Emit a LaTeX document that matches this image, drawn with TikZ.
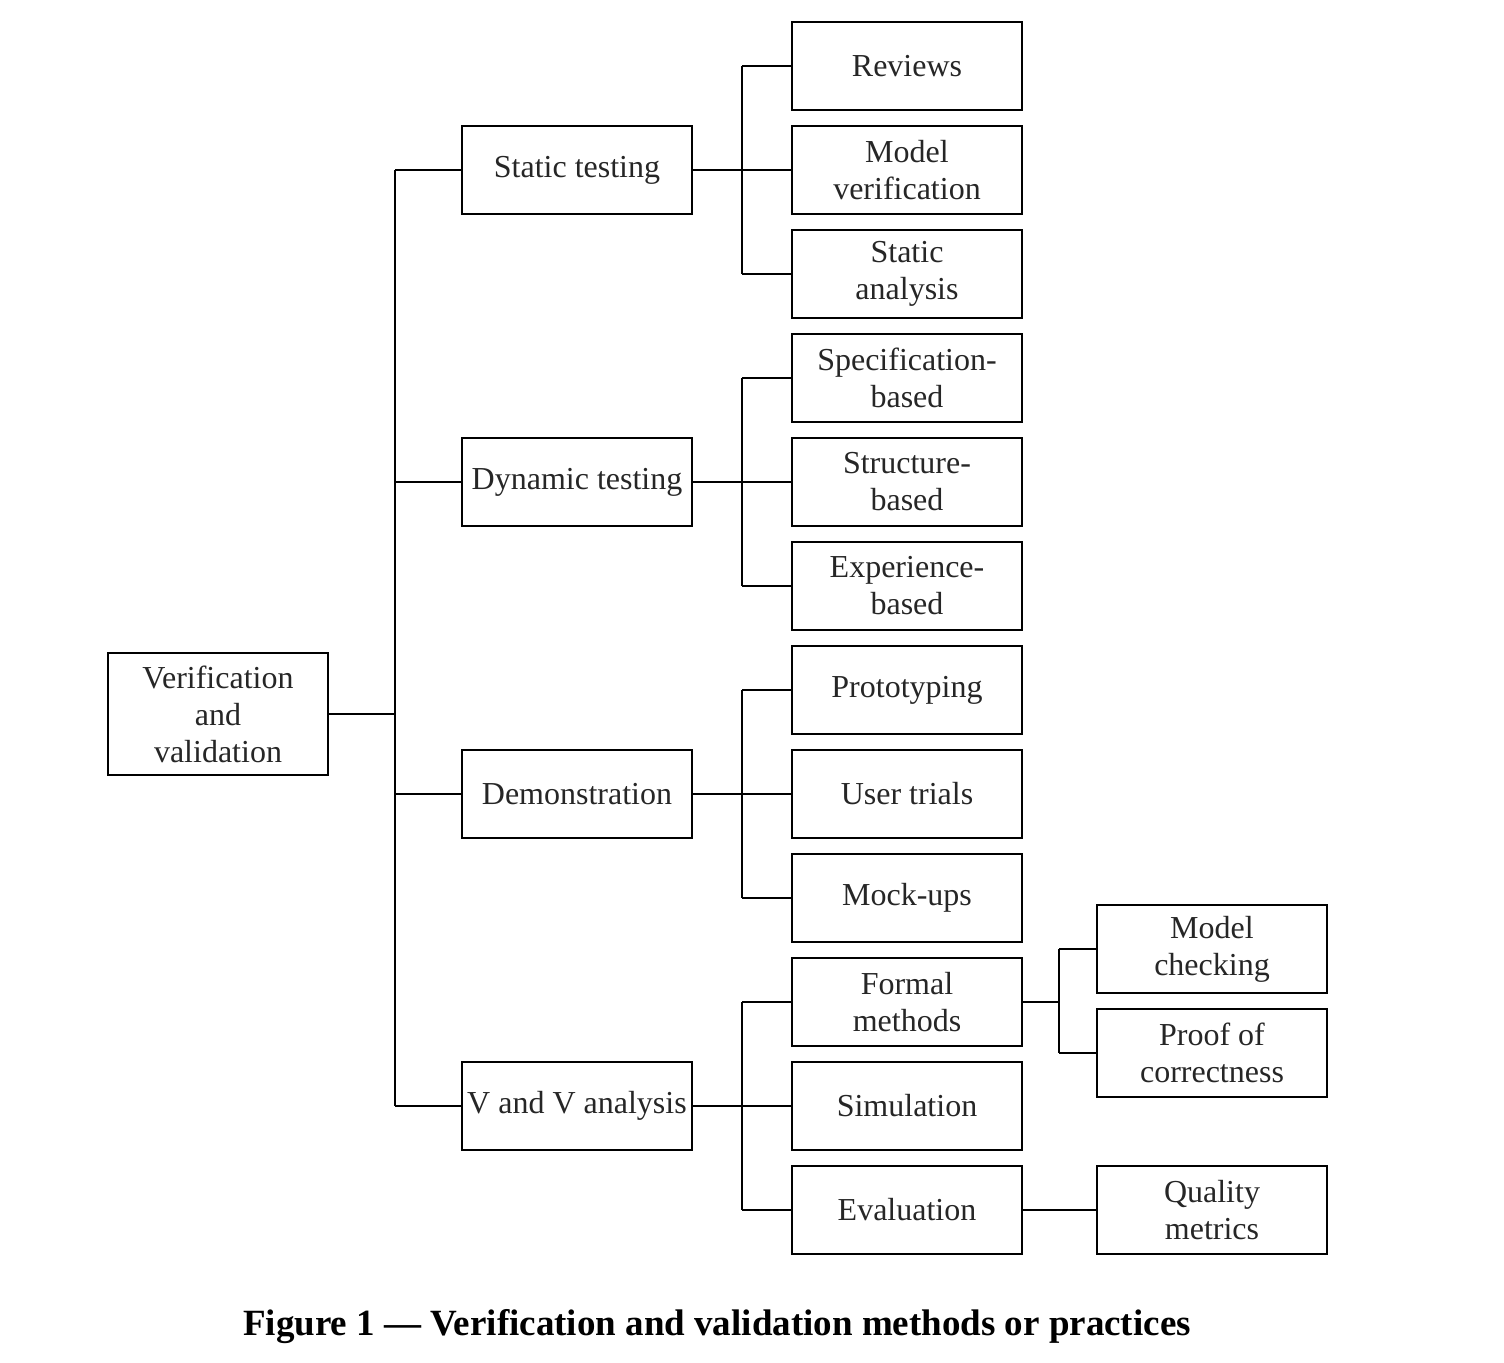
\documentclass[tikz,border=0pt]{standalone}
\usepackage{fontspec}
\setmainfont{Liberation Serif}
\begin{document}
\begin{tikzpicture}[x=0.5pt,y=-0.5pt,
  box/.style={draw, line width=1.2pt, minimum width=115pt, minimum height=44pt, inner sep=0pt, align=center, font=\fontsize{16}{18.5}\selectfont, text=black!85},
  rootbox/.style={box, minimum height=61pt, minimum width=110pt},
  conn/.style={line width=1.2pt}]
\useasboundingbox (0,0) rectangle (1504,1362);
\node[rootbox] (vv) at (218,714) {Verification\\and\\validation};
\node[box] (st) at (577,170) {Static testing};
\node[box] (dt) at (577,482) {Dynamic testing};
\node[box] (de) at (577,794) {Demonstration};
\node[box] (va) at (577,1106) {V and V analysis};
\node[box] (rv) at (907,66) {Reviews};
\node[box] (mv) at (907,170) {Model\\verification};
\node[box] (sa) at (907,274) {Static\\analysis};
\node[box] (sb) at (907,378) {Specification-\\based};
\node[box] (stb) at (907,482) {Structure-\\based};
\node[box] (eb) at (907,586) {Experience-\\based};
\node[box] (pr) at (907,690) {Prototyping};
\node[box] (ut) at (907,794) {User trials};
\node[box] (mu) at (907,898) {Mock-ups};
\node[box] (fm) at (907,1002) {Formal\\methods};
\node[box] (si) at (907,1106) {Simulation};
\node[box] (ev) at (907,1210) {Evaluation};
\node[box] (mc) at (1212,949) {Model\\checking};
\node[box] (pc) at (1212,1053) {Proof of\\correctness};
\node[box] (qm) at (1212,1210) {Quality\\metrics};
\coordinate (b0) at (395,714);
\coordinate (b1) at (742,0);
\coordinate (b2) at (1059,0);
\draw[conn] (vv.east) -- (b0);
\foreach \n in {st,dt,de,va} \draw[conn] (b0 |- \n.west) -- (\n.west);
\draw[conn] (b0 |- st.west) -- (b0 |- va.west);
\foreach \p/\a/\b/\c in {st/rv/mv/sa, dt/sb/stb/eb, de/pr/ut/mu, va/fm/si/ev}{
  \draw[conn] (\p.east) -- (b1 |- \p.east);
  \draw[conn] (b1 |- \a.west) -- (b1 |- \c.west);
  \foreach \k in {\a,\b,\c} \draw[conn] (b1 |- \k.west) -- (\k.west);
}
\draw[conn] (fm.east) -- (b2 |- fm.east);
\draw[conn] (b2 |- mc.west) -- (b2 |- pc.west);
\draw[conn] (b2 |- mc.west) -- (mc.west);
\draw[conn] (b2 |- pc.west) -- (pc.west);
\draw[conn] (ev.east) -- (qm.west);
\node[font=\fontsize{18.5}{21}\selectfont\bfseries] (cap) at (717,1327) {Figure 1 — Verification and validation methods or practices};
\end{tikzpicture}
\end{document}
